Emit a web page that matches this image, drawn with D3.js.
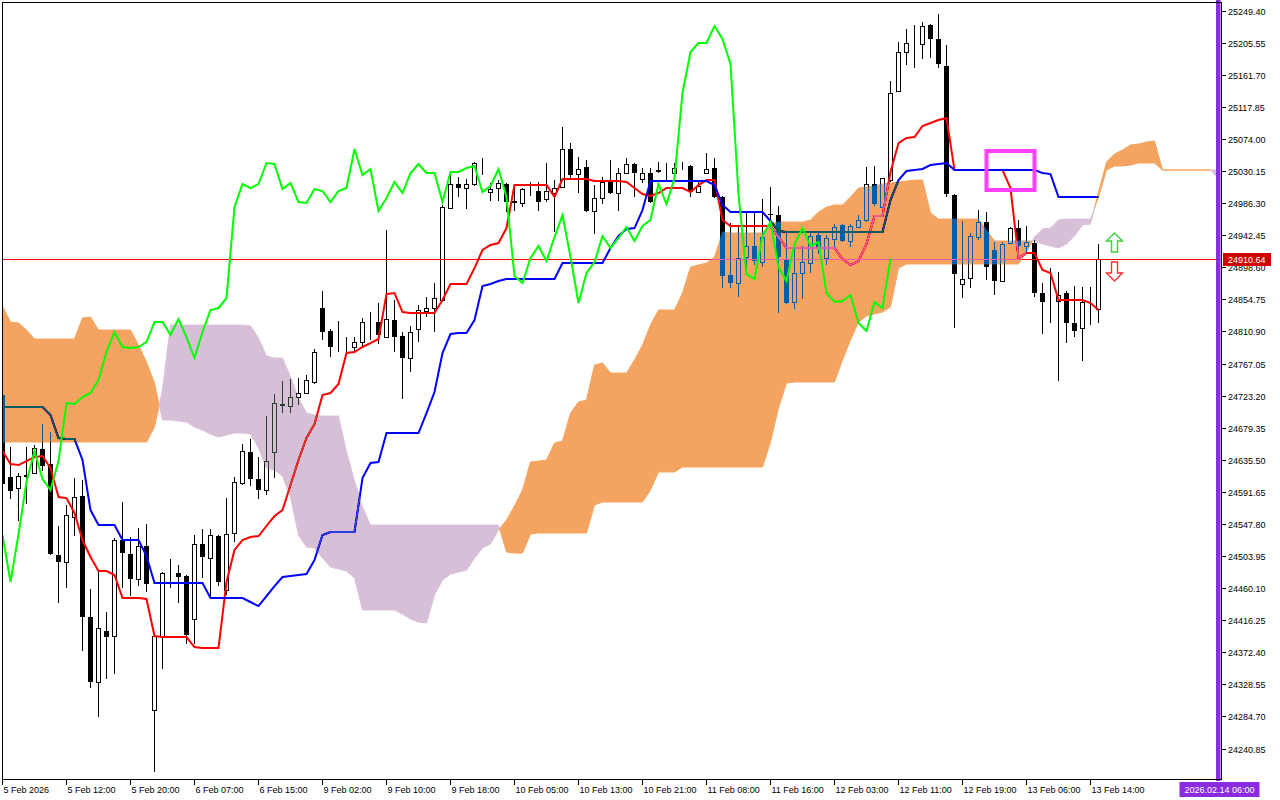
<!DOCTYPE html>
<html><head><meta charset="utf-8">
<script src="https://cdn.jsdelivr.net/npm/d3@7"></script>
<style>
html,body{margin:0;padding:0;background:#fff;}
svg{display:block;}
text{font-family:"Liberation Sans",Arial,sans-serif;font-size:9px;}
</style></head><body>
<svg id="c" width="1280" height="800"></svg>
<script>
// ---------------- DATA (H1 bars, index 0 = 5 Feb 2026) ----------------
const opens=[24724.0,24611.9,24596.9,24613.3,24617.4,24650.2,24629.7,24505.3,24495.7,24557.2,
24586.0,24420.6,24331.7,24401.4,24394.6,24525.8,24506.7,24472.5,24517.6,24293.4,
24394.6,24480.7,24480.7,24476.6,24417.8,24520.4,24501.2,24531.3,24457.5,24535.4,
24603.7,24646.1,24609.2,24594.2,24646.1,24710.4,24709.0,24721.3,24726.8,24741.8,
24843.0,24811.5,24788.3,24789.7,24789.7,24796.5,24823.8,24823.8,24803.3,24826.6,
24804.7,24774.6,24814.3,24838.9,24843.0,24853.9,24979.7,25012.5,25007.0,25012.5,
25039.8,25001.5,25007.0,25012.5,24989.2,24986.5,25002.9,25002.9,24992.0,25000.2,
25008.4,25060.3,25026.1,25035.7,24975.6,24993.3,25015.2,25000.2,25027.5,25039.8,
25019.3,25027.5,25031.6,25028.9,25027.5,25037.1,25037.1,25001.5,25027.5,25034.3,
24994.7,24888.1,24877.1,24912.7,24927.7,24905.8,24971.5,24970.1,24909.9,24851.2,
24890.8,24904.5,24942.8,24911.3,24937.3,24956.4,24934.6,24953.7,24963.3,25012.5,
24981.0,25017.9,25139.6,25192.9,25205.2,25203.9,25229.8,25210.7,25173.8,24997.4,
24875.8,24884.0,24940.0,24960.5,24922.3,24879.9,24931.8,24952.3,24927.7,24931.8,
24863.5,24852.5,24852.5,24863.5,24822.5,24815.6,24843.0,24841.6];
const highs=[24726.8,24653.0,24617.4,24653.0,24655.7,24684.4,24673.4,24545.0,24573.7,24610.6,
24607.8,24458.8,24483.4,24427.4,24528.6,24577.8,24529.9,24542.2,24547.7,24397.3,
24482.1,24499.8,24491.6,24478.0,24532.7,24540.9,24540.9,24532.7,24583.2,24611.9,
24657.1,24663.9,24639.3,24695.3,24725.4,24743.2,24745.9,24747.3,24751.4,24786.9,
24866.2,24814.3,24825.2,24803.3,24803.3,24829.3,24837.5,24849.8,24949.6,24853.9,
24810.2,24818.4,24847.1,24858.0,24877.1,24983.8,25030.2,25022.0,25019.3,25042.5,
25048.0,25013.8,25017.9,25013.8,25011.1,25007.0,25015.2,25015.2,25041.2,25017.9,
25090.4,25068.5,25049.4,25045.3,25011.1,25022.0,25045.3,25034.3,25048.0,25041.2,
25034.3,25034.3,25042.5,25041.2,25041.2,25042.5,25038.4,25017.9,25054.8,25048.0,
24996.1,24959.2,24956.4,24974.2,24972.8,24992.0,25008.4,24982.4,24946.9,24926.4,
24927.7,24946.9,24948.2,24942.8,24957.8,24957.8,24957.8,24970.1,25035.7,25037.1,
25020.7,25153.3,25206.6,25224.4,25229.8,25233.9,25231.2,25244.9,25202.5,24998.8,
24961.9,24945.5,24976.9,24974.2,24933.2,24933.2,24953.7,24963.3,24955.1,24935.9,
24877.1,24897.6,24892.2,24866.2,24873.0,24871.7,24871.7,24930.5];
const lows=[24594.2,24581.9,24551.8,24575.0,24616.0,24620.1,24505.3,24439.7,24460.2,24531.3,
24374.1,24323.5,24283.8,24335.8,24342.6,24460.2,24449.3,24462.9,24454.7,24208.7,
24349.5,24460.2,24439.7,24383.7,24383.7,24473.9,24447.9,24462.9,24450.6,24523.1,
24601.0,24599.6,24581.9,24587.3,24610.6,24699.4,24699.4,24710.4,24725.4,24739.1,
24799.2,24776.0,24782.8,24782.8,24784.2,24791.0,24799.2,24793.8,24802.0,24782.8,
24718.6,24755.5,24796.5,24830.7,24810.2,24851.2,24978.3,24994.7,24978.3,25009.7,
25024.8,24989.2,24989.2,24974.2,24975.6,24981.0,24996.1,24975.6,24987.9,24946.9,
25007.0,25020.7,25000.2,24974.2,24944.1,24985.1,24998.8,24975.6,25026.1,24994.7,
25013.8,24986.5,25027.5,25017.9,25024.8,25031.6,24994.7,25001.5,25026.1,24993.3,
24870.3,24870.3,24858.0,24890.8,24901.7,24899.0,24951.0,24836.1,24848.4,24841.6,
24855.3,24890.8,24916.8,24901.7,24923.6,24933.2,24926.4,24952.3,24960.5,24982.4,
24979.7,25015.2,25138.2,25175.1,25171.0,25183.3,25184.7,25171.0,24994.7,24815.6,
24856.6,24870.3,24935.9,24881.2,24860.7,24879.9,24931.8,24919.5,24919.5,24858.0,
24807.4,24822.5,24743.2,24795.1,24803.3,24770.5,24819.7,24822.5];
const closes=[24602.4,24592.8,24613.3,24614.7,24651.6,24627.0,24506.7,24495.7,24560.0,24584.6,
24420.6,24331.7,24405.5,24393.2,24525.8,24508.0,24472.5,24517.6,24465.7,24394.6,
24480.7,24480.7,24475.2,24395.9,24520.4,24502.6,24532.7,24468.4,24534.0,24605.1,
24647.5,24609.2,24594.2,24633.8,24713.1,24711.7,24721.3,24726.8,24744.5,24782.8,
24810.2,24789.7,24788.3,24789.7,24796.5,24823.8,24823.8,24806.1,24827.9,24803.3,
24774.6,24810.2,24840.3,24843.0,24856.6,24981.0,25012.5,25007.0,25012.5,25041.2,
25039.8,25005.6,25013.8,24987.9,24986.5,25005.6,25002.9,24987.9,25002.9,25007.0,
25060.3,25024.8,25033.0,24975.6,24993.3,25015.2,25000.2,25027.5,25039.8,25027.5,
25027.5,24987.9,25028.9,25028.9,25034.3,25037.1,25001.5,25009.7,25033.0,24994.7,
24886.7,24877.1,24911.3,24927.7,24907.2,24940.0,24970.1,24912.7,24849.8,24890.8,
24905.8,24941.4,24925.0,24938.7,24953.7,24934.6,24955.1,24963.3,25012.5,24985.1,
25020.7,25136.9,25192.9,25205.2,25205.2,25228.5,25210.7,25176.5,24998.8,24889.4,
24882.6,24941.4,24960.5,24899.0,24879.9,24930.5,24952.3,24927.7,24933.2,24863.5,
24851.2,24852.5,24860.7,24822.5,24811.5,24851.2,24843.0,24910.64];
const tenkan=[24647.5,24629.7,24628.3,24633.8,24639.3,24640.6,24624.2,24584.6,24583.2,24562.7,
24525.8,24502.6,24483.4,24483.4,24478.0,24446.5,24446.5,24446.5,24445.2,24394.6,
24393.2,24393.2,24393.2,24393.2,24379.5,24378.2,24378.2,24378.2,24468.4,24512.2,
24525.8,24529.9,24531.3,24545.0,24558.6,24566.8,24601.0,24635.2,24665.3,24684.4,
24724.0,24726.8,24739.1,24781.5,24782.8,24789.7,24795.1,24800.6,24862.1,24863.5,
24837.5,24836.1,24836.1,24836.1,24836.1,24853.9,24875.8,24875.8,24875.8,24897.6,
24922.3,24929.1,24931.8,24952.3,25011.1,25011.1,25011.1,25011.1,25011.1,24994.7,
25019.3,25019.3,25019.3,25019.3,25016.6,25016.6,25016.6,25016.6,25015.2,25007.0,
24998.8,24996.1,25000.2,25007.0,25007.0,25007.0,25001.5,25011.1,25017.9,25017.9,
24963.3,24955.1,24955.1,24955.1,24955.1,24955.1,24955.1,24940.0,24925.0,24925.0,
24925.0,24925.0,24925.0,24925.0,24925.0,24909.9,24901.7,24907.2,24930.5,24968.7,
24968.7,25028.9,25068.5,25075.4,25076.7,25091.8,25095.9,25100.0,25102.7,25031.6,
25031.6,25031.6,25031.6,25031.6,25031.6,25031.6,25007.0,24911.3,24918.1,24918.1,
24894.9,24890.8,24853.9,24853.9,24853.9,24853.9,24849.8,24840.3];
const kijun=[24707.6,24707.6,24707.6,24707.6,24707.6,24707.6,24696.7,24665.3,24663.9,24663.9,
24635.2,24566.8,24546.3,24546.3,24546.3,24525.8,24525.8,24525.8,24504.0,24467.0,
24467.0,24467.0,24467.0,24467.0,24467.0,24467.0,24446.5,24446.5,24446.5,24446.5,
24446.5,24441.1,24435.6,24449.3,24462.9,24475.2,24476.6,24478.0,24479.3,24498.5,
24532.7,24536.8,24536.8,24536.8,24536.8,24610.6,24631.1,24632.5,24672.1,24672.1,
24672.1,24672.1,24672.1,24699.4,24728.1,24781.5,24807.4,24808.8,24808.8,24826.6,
24873.0,24875.8,24879.9,24882.6,24882.6,24882.6,24882.6,24882.6,24882.6,24882.6,
24904.5,24904.5,24904.5,24904.5,24904.5,24904.5,24925.0,24941.4,24951.0,24952.3,
24976.9,25016.6,25016.6,25016.6,25016.6,25016.6,25016.6,25016.6,25016.6,25011.1,
24983.8,24974.2,24974.2,24974.2,24974.2,24974.2,24961.9,24948.2,24946.9,24946.9,
24946.9,24946.9,24946.9,24946.9,24946.9,24946.9,24946.9,24946.9,24946.9,24946.9,
24946.9,24990.6,25017.9,25030.2,25031.6,25033.0,25038.4,25039.8,25041.2,25031.6,
25031.6,25031.6,25031.6,25031.6,25031.6,25031.6,25031.6,25031.6,25031.6,25031.6,
25027.5,25026.1,24994.7,24994.7,24994.7,24994.7,24994.7,24994.7];
// chikou span: value plotted at bar j (close of bar j+26)
const chikou=[24532.7,24468.4,24534.0,24605.1,24647.5,24609.2,24594.2,24633.8,24713.1,24711.7,
24721.3,24726.8,24744.5,24782.8,24810.2,24789.7,24788.3,24789.7,24796.5,24823.8,
24823.8,24806.1,24827.9,24803.3,24774.6,24810.2,24840.3,24843.0,24856.6,24981.0,
25012.5,25007.0,25012.5,25041.2,25039.8,25005.6,25013.8,24987.9,24986.5,25005.6,
25002.9,24987.9,25002.9,25007.0,25060.3,25024.8,25033.0,24975.6,24993.3,25015.2,
25000.2,25027.5,25039.8,25027.5,25027.5,24987.9,25028.9,25028.9,25034.3,25037.1,
25001.5,25009.7,25033.0,24994.7,24886.7,24877.1,24911.3,24927.7,24907.2,24940.0,
24970.1,24912.7,24849.8,24890.8,24905.8,24941.4,24925.0,24938.7,24953.7,24934.6,
24955.1,24963.3,25012.5,24985.1,25020.7,25136.9,25192.9,25205.2,25205.2,25228.5,
25210.7,25176.5,24998.8,24889.4,24882.6,24941.4,24960.5,24899.0,24879.9,24930.5,
24952.3,24927.7,24933.2,24863.5,24851.2,24852.5,24860.7,24822.5,24811.5,24851.2,
24843.0,24910.64];
// senkou spans as plotted at bar k (already shifted forward)
const senkouA=[24845.7,24823.8,24822.5,24812.9,24800.6,24800.6,24800.6,24800.6,24800.6,24800.6,
24829.3,24830.7,24812.9,24812.9,24812.9,24812.9,24812.9,24792.4,24769.1,24740.4,
24689.9,24689.9,24688.5,24687.1,24680.3,24676.2,24670.7,24666.6,24669.4,24672.1,
24672.1,24670.7,24651.6,24624.2,24621.5,24613.3,24584.6,24532.7,24516.3,24514.9,
24501.2,24488.9,24486.2,24483.4,24473.9,24430.1,24430.1,24430.1,24430.1,24430.1,
24424.6,24417.8,24413.7,24412.4,24450.6,24471.1,24479.3,24482.1,24484.8,24501.2,
24514.9,24520.4,24539.5,24553.2,24572.3,24594.2,24632.5,24633.8,24635.2,24658.4,
24661.2,24699.4,24714.5,24717.2,24765.0,24767.8,24754.1,24754.1,24754.1,24771.9,
24792.4,24819.7,24840.3,24840.3,24840.3,24863.5,24899.0,24901.7,24904.5,24912.7,
24946.9,24945.5,24945.5,24945.5,24945.5,24945.5,24959.2,24960.5,24960.5,24960.5,
24960.5,24963.3,24974.2,24981.0,24983.8,24983.8,24994.7,25007.0,25008.4,25009.7,
25012.5,25013.8,25015.2,25016.6,25017.9,25017.9,24972.8,24964.6,24964.6,24964.6,
24964.6,24964.6,24964.6,24949.6,24934.6,24934.6,24934.6,24934.6,24934.6,24934.6,
24930.5,24927.7,24925.0,24930.5,24941.4,24956.4,24957.8,25001.5,25042.5,25053.5,
25058.9,25065.8,25067.2,25069.9,25071.3,25031.6,25031.6,25031.6,25031.6,25031.6,
25031.6,25031.6,25019.3];
const senkouB=[24659.8,24659.8,24659.8,24659.8,24659.8,24659.8,24659.8,24659.8,24659.8,24659.8,
24659.8,24659.8,24659.8,24659.8,24659.8,24659.8,24659.8,24659.8,24659.8,24680.3,
24730.9,24819.7,24819.7,24819.7,24819.7,24819.7,24819.7,24819.7,24819.7,24819.7,
24819.7,24818.4,24802.0,24777.3,24774.6,24774.6,24748.6,24719.9,24699.4,24696.7,
24695.3,24695.3,24695.3,24646.1,24606.5,24570.9,24546.3,24546.3,24546.3,24546.3,
24546.3,24546.3,24546.3,24546.3,24546.3,24546.3,24546.3,24546.3,24546.3,24546.3,
24546.3,24546.3,24546.3,24509.4,24508.0,24508.0,24534.0,24535.4,24535.4,24535.4,
24535.4,24535.4,24535.4,24535.4,24573.7,24577.8,24577.8,24577.8,24577.8,24577.8,
24577.8,24594.2,24618.8,24618.8,24618.8,24625.6,24625.6,24625.6,24625.6,24625.6,
24625.6,24625.6,24625.6,24625.6,24625.6,24625.6,24659.8,24706.3,24740.4,24741.8,
24741.8,24741.8,24741.8,24741.8,24741.8,24771.9,24799.2,24823.8,24832.0,24834.8,
24837.5,24844.3,24897.6,24903.1,24903.1,24903.1,24903.1,24903.1,24903.1,24903.1,
24903.1,24903.1,24903.1,24903.1,24903.1,24903.1,24903.1,24903.1,24919.5,24940.0,
24951.0,24952.3,24963.3,24964.6,24964.6,24964.6,24964.6,24994.7,25031.6,25037.1,
25037.1,25038.4,25041.2,25041.2,25041.2,25031.6,25031.6,25031.6,25031.6,25031.6,
25031.6,25031.6,25031.6];
const priceTicks=["25249.40","25205.55","25161.70","25117.85","25074.00","25030.15","24986.30","24942.45",
"24898.60","24854.75","24810.90","24767.05","24723.20","24679.35","24635.50","24591.65","24547.80",
"24503.95","24460.10","24416.25","24372.40","24328.55","24284.70","24240.85"];
const timeLabels=["5 Feb 2026","5 Feb 12:00","5 Feb 20:00","6 Feb 07:00","6 Feb 15:00","9 Feb 02:00",
"9 Feb 10:00","9 Feb 18:00","10 Feb 05:00","10 Feb 13:00","10 Feb 21:00","11 Feb 08:00","11 Feb 16:00",
"12 Feb 03:00","12 Feb 11:00","12 Feb 19:00","13 Feb 06:00","13 Feb 14:00"];
const timeLabelBars=[0,8,16,24,32,40,48,56,64,72,80,88,96,104,112,120,128,136];
const lastPrice=24910.64;
const rectObj={bar0:123,bar1:129,p0:25057.6,p1:25004.3};
const upArrow={bar:139,price:24945.5};
const downArrow={bar:139,price:24905.8};
const vline={bar:152,label:"2026.02.14 06:00"};

// ---------------- DRAWING ----------------
const svg=d3.select("#c");
const x=d3.scaleLinear().domain([0,1]).range([2.5,10.5]);
const y=d3.scaleLinear().domain([24240.85,25249.40]).range([748.5,10.7]);

svg.append("rect").attr("width",1280).attr("height",800).attr("fill","#fff");
svg.append("defs").append("clipPath").attr("id","plot")
  .append("rect").attr("x",3).attr("y",3).attr("width",1218).attr("height",776);

const g=svg.append("g").attr("clip-path","url(#plot)");
// white backdrop inside the isolated group so the blend has something to act on
g.append("rect").attr("x",0).attr("y",0).attr("width",1280).attr("height",800).attr("fill","#fff");
// candles
const cg=g.append("g").attr("shape-rendering","crispEdges");
opens.forEach((o,i)=>{
  const c=closes[i], xc=x(i);
  cg.append("line").attr("x1",xc).attr("x2",xc).attr("y1",y(highs[i])).attr("y2",y(lows[i]))
    .attr("stroke","#000").attr("stroke-width",1);
  const top=y(Math.max(o,c)), bot=y(Math.min(o,c));
  if(c>=o){
    cg.append("rect").attr("x",xc-2).attr("width",4).attr("y",Math.round(top)+0.5)
      .attr("height",Math.max(0,Math.round(bot)-Math.round(top)))
      .attr("fill","#fff").attr("stroke","#000").attr("stroke-width",1);
  }else{
    cg.append("rect").attr("x",xc-2.5).attr("width",5).attr("y",Math.round(top))
      .attr("height",Math.max(1,Math.round(bot)-Math.round(top))).attr("fill","#000");
  }
});
// current price line
g.append("line").attr("x1",0).attr("x2",1221).attr("y1",Math.round(y(lastPrice))+0.5)
  .attr("y2",Math.round(y(lastPrice))+0.5).attr("stroke","#ff0000").attr("stroke-width",1);
// tenkan / kijun
const line=d3.line().x((d,i)=>x(i)).y(d=>y(d));
g.append("path").attr("d",line(tenkan)).attr("fill","none").attr("stroke","#ff0000").attr("stroke-width",2);
g.append("path").attr("d",line(kijun)).attr("fill","none").attr("stroke","#0000ff").attr("stroke-width",2);

// cloud (difference blend reproduces the XOR look of the terminal)
function cloudRuns(A,B){
  const runs=[];let cur=null,sign=0;
  for(let k=0;k<A.length;k++){
    const d=A[k]-B[k];
    const s=d>0?1:(d<0?-1:(sign||1));
    if(!cur){cur={s,pts:[{k,a:A[k],b:B[k]}]};sign=s;continue;}
    if(s!==sign){
      const kp=k-1,dp=A[kp]-B[kp],t=dp/(dp-d);
      const kc=kp+t,vc=A[kp]+t*(A[k]-A[kp]);
      cur.pts.push({k:kc,a:vc,b:vc});runs.push(cur);
      cur={s,pts:[{k:kc,a:vc,b:vc},{k,a:A[k],b:B[k]}]};sign=s;
    }else cur.pts.push({k,a:A[k],b:B[k]});
  }
  runs.push(cur);return runs;
}
const area=d3.area().x(d=>x(d.k)).y0(d=>y(d.b)).y1(d=>y(d.a));
const cloud=g.append("g").style("mix-blend-mode","difference");
cloudRuns(senkouA,senkouB).forEach(r=>{
  const col=r.s>0?"#0B5B9F":"#274027";
  cloud.append("path").attr("d",area(r.pts)).attr("fill",col).attr("stroke",col).attr("stroke-width",1);
});
// chikou
g.append("path").attr("d",line(chikou)).attr("fill","none").attr("stroke","#00ff00").attr("stroke-width",2);

// rectangle object
g.append("rect").attr("x",x(rectObj.bar0)).attr("y",y(rectObj.p0))
  .attr("width",x(rectObj.bar1)-x(rectObj.bar0)).attr("height",y(rectObj.p1)-y(rectObj.p0))
  .attr("fill","none").attr("stroke","#ff40ff").attr("stroke-width",4);
// arrows
g.append("path").attr("transform",`translate(${x(upArrow.bar)},${y(upArrow.price)})`)
  .attr("d","M0,0 L8,8 L3,8 L3,19 L-3,19 L-3,8 L-8,8 Z")
  .attr("fill","#fff").attr("stroke","#3ccf3c").attr("stroke-width",1.4);
g.append("path").attr("transform",`translate(${x(downArrow.bar)},${y(downArrow.price)})`)
  .attr("d","M-3,0 L3,0 L3,11 L8,11 L0,19 L-8,11 L-3,11 Z")
  .attr("fill","#fff").attr("stroke","#ff3030").attr("stroke-width",1.4);

// vertical line object
svg.append("rect").attr("x",x(vline.bar)-2.5).attr("y",0).attr("width",4.5).attr("height",781).attr("fill","#8a2be2");

// frame
svg.append("rect").attr("x",2.5).attr("y",2.5).attr("width",1219).attr("height",777)
  .attr("fill","none").attr("stroke","#000").attr("stroke-width",1).attr("shape-rendering","crispEdges");

// right price axis
const ya=svg.append("g").attr("shape-rendering","crispEdges");
priceTicks.forEach(t=>{
  const yy=Math.round(y(+t))+0.5;
  ya.append("line").attr("x1",1222).attr("x2",1226).attr("y1",yy).attr("y2",yy).attr("stroke","#000");
  ya.append("text").attr("x",1228).attr("y",yy).attr("dy","0.35em").attr("fill","#000").text(t);
});
// last price label
const lp=Math.round(y(lastPrice));
svg.append("rect").attr("x",1223).attr("y",lp-6).attr("width",48).attr("height",13).attr("fill","#d00000");
svg.append("text").attr("x",1228).attr("y",lp+0.5).attr("dy","0.35em").attr("fill","#fff").text(lastPrice.toFixed(2));

// bottom time axis
const xa=svg.append("g").attr("shape-rendering","crispEdges");
timeLabels.forEach((t,i)=>{
  const xx=x(timeLabelBars[i]);
  xa.append("line").attr("x1",xx).attr("x2",xx).attr("y1",780).attr("y2",785).attr("stroke","#000");
  xa.append("text").attr("x",xx+1).attr("y",793).attr("fill","#000").text(t);
});
// vertical line label
const vx=x(vline.bar);
svg.append("rect").attr("x",vx-39).attr("y",782).attr("width",80).attr("height",15).attr("fill","#8a2be2");
svg.append("text").attr("x",vx+1).attr("y",793).attr("text-anchor","middle").attr("fill","#fff").text(vline.label);
</script>
</body></html>
